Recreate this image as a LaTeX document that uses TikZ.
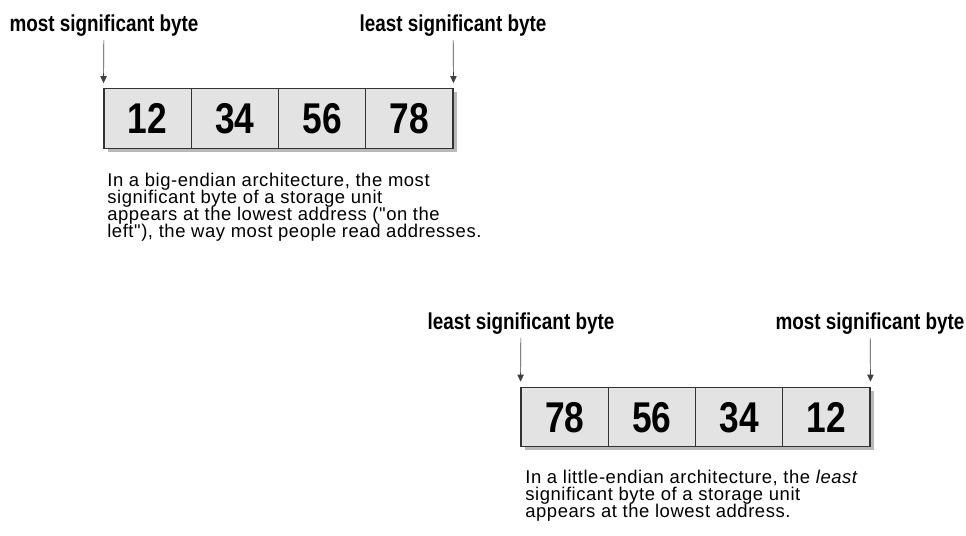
\documentclass[tikz,border=0pt]{standalone}
\usepackage{fontspec}
\setmainfont{Liberation Sans}
\newfontfamily\narrowsf[FakeStretch=0.82]{Liberation Sans}
\newfontfamily\notesf[LetterSpace=3]{Liberation Sans}
\newcommand\notetype{\notesf\fontsize{10.5}{9.7}\selectfont\setlength{\lineskiplimit}{-10pt}}
\usetikzlibrary{arrows.meta,shadows}

\tikzset{
  byte/.style={draw=black!80, line width=0.6pt, fill=gray!22,
    minimum width=1.745cm, minimum height=1.19cm, inner sep=0pt,
    text height=17.5pt, text depth=0pt,
    font=\narrowsf\bfseries\fontsize{24.5}{26}\selectfont,
    drop shadow={shadow xshift=0.07cm, shadow yshift=-0.07cm, fill=gray!55, opacity=1}},
  tag/.style={inner sep=0pt, anchor=base, font=\narrowsf\bfseries\fontsize{13.1}{15}\selectfont},
  note/.style={inner sep=0pt, anchor=north west, align=left, font=\notetype},
  pointer/.style={-{Triangle[length=4pt,width=3.6pt]}, black!75, line width=0.4pt,
    shorten <=0.06cm, shorten >=0.1cm}
}

\begin{document}
\begin{tikzpicture}
\useasboundingbox (0,0) rectangle (19.32,10.72);

% big-endian word
\foreach \v [count=\i] in {12,34,56,78}
\node[byte] (big\i) at ({2.08+(\i-0.5)*1.745},8.35) {\v};
\node[tag] (bigmsb) at (2.08,10.08) {most significant byte};
\node[tag] (biglsb) at (9.06,10.08) {least significant byte};
\draw[pointer] (bigmsb) -- (big1.north west);
\draw[pointer] (biglsb) -- (big4.north east);
\node[note] (bignote) at (2.14,7.27) {In a big-endian architecture, the most\\
significant byte of a storage unit\\
appears at the lowest address ("on the\\
left"), the way most people read addresses.};

% little-endian word
\foreach \v [count=\i] in {78,56,34,12}
\node[byte] (little\i) at ({10.42+(\i-0.5)*1.745},2.38) {\v};
\node[tag] (littlelsb) at (10.42,4.12) {least significant byte};
\node[tag] (littlemsb) at (17.40,4.12) {most significant byte};
\draw[pointer] (littlelsb) -- (little1.north west);
\draw[pointer] (littlemsb) -- (little4.north east);
\node[note] (littlenote) at (10.5,1.33) {In a little-endian architecture, the \textit{least}\\
significant byte of a storage unit\\
appears at the lowest address.};
\end{tikzpicture}
\end{document}
